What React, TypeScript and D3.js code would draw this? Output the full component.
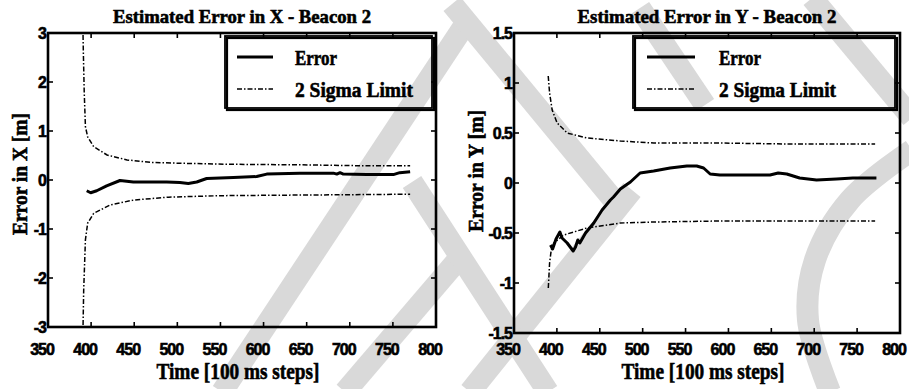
import React from 'react';
import * as d3 from 'd3';

// ---- data ----
const timeTicks = [350, 400, 450, 500, 550, 600, 650, 700, 750, 800];
const yTicksX = [-3, -2, -1, 0, 1, 2, 3];
const yTicksY = [-1.5, -1, -0.5, 0, 0.5, 1, 1.5];

const errorX: [number, number][] = [
  [394.9, -0.22], [399.5, -0.26], [406.5, -0.22], [418, -0.12], [433.5, -0.01],
  [449, -0.04], [487.7, -0.04], [503, -0.05], [512.7, -0.07], [522.5, -0.04],
  [534, 0.03], [565, 0.05], [592, 0.07], [603.7, 0.12], [642, 0.14],
  [681, 0.14], [685, 0.12], [688.7, 0.15], [692.5, 0.12], [719.6, 0.11],
  [750.5, 0.11], [758, 0.15], [770, 0.17],
];

const sigmaUpperX: [number, number][] = [
  [390, 3.6], [391, 2.6], [392, 1.8], [393.4, 1.09], [396, 0.88], [403, 0.68],
  [418.5, 0.51], [441.7, 0.41], [468.6, 0.36], [507, 0.34], [565, 0.32],
  [642, 0.31], [719, 0.29], [770, 0.29],
];

const sigmaLowerX: [number, number][] = [
  [390, -3.6], [391.4, -2.24], [393.4, -1.22], [396, -0.88], [403, -0.68],
  [422, -0.51], [449, -0.41], [490, -0.35], [550, -0.32], [620, -0.31],
  [700, -0.3], [770, -0.29],
];

const errorY: [number, number][] = [
  [392.6, -0.62], [395, -0.66], [399, -0.56], [403.5, -0.49], [406, -0.55],
  [412, -0.6], [419, -0.68], [421.7, -0.64], [424.4, -0.57], [426.7, -0.6],
  [429.4, -0.56], [433.4, -0.5], [443, -0.4], [452.7, -0.27], [462.4, -0.17],
  [466, -0.14], [474, -0.06], [485.7, 0.01], [497, 0.1], [512.8, 0.12],
  [532, 0.15], [551.5, 0.17], [563, 0.17], [571, 0.15], [578.7, 0.09],
  [590, 0.08], [648.5, 0.08], [658, 0.1], [668, 0.09], [683, 0.05],
  [702.7, 0.03], [726, 0.04], [745, 0.05], [772.5, 0.05],
];

const sigmaUpperY: [number, number][] = [
  [389.9, 1.07], [391.5, 0.9], [394.5, 0.73], [400.3, 0.6], [412, 0.5],
  [435, 0.45], [474, 0.42], [512.8, 0.4], [590, 0.4], [668, 0.39], [771, 0.39],
];

const sigmaLowerY: [number, number][] = [
  [390, -1.05], [391.5, -0.8], [393.4, -0.67], [396.5, -0.6], [408, -0.52],
  [435, -0.45], [474, -0.4], [512.8, -0.39], [590, -0.38], [771, -0.38],
];

// ---- decoration: the grey watermark behind the plots ----
const watermark: [number, number][][] = [
  [[464, 26], [222, 392]],
  [[462, 255], [345, 392]],
  [[452, 4], [612, 198]],
  [[632, 190], [470, 392]],
  [[412, 182], [548, 392]],
  [[640, 8], [705, 105]],
  [[812, -2], [912, 118]],
  [[912, 150], [850, 200], [815, 260], [808, 320], [830, 392]],
];

const serif = '"Liberation Serif", "Times New Roman", serif';
const sans = '"Liberation Sans", Arial, sans-serif';

interface PanelProps {
  left: number; right: number; top: number; bottom: number;
  yDomain: [number, number]; yTicks: number[];
  title: string; titleWidth: number; ylabel: string; ylabelX: number; ylabelY: number;
  legend: { x: number; y: number; w: number; h: number; lx0: number; lx1: number; tx: number; errW: number; sigW: number };
  error: [number, number][]; upper: [number, number][]; lower: [number, number][];
  id: string;
}

const heavy = { stroke: '#000', strokeWidth: 0.6 };

function Panel(p: PanelProps) {
  const x = d3.scaleLinear().domain([350, 800]).range([p.left, p.right]);
  const y = d3.scaleLinear().domain(p.yDomain).range([p.bottom, p.top]);
  const line = d3.line<[number, number]>().x(d => x(d[0])).y(d => y(d[1]));
  const tl = 5;
  const cx = (p.left + p.right) / 2;
  const L = p.legend;
  const sigmaDash = '5,2,1.5,2';
  return (
    <g>
      <defs>
        <clipPath id={p.id}>
          <rect x={p.left} y={p.top} width={p.right - p.left} height={p.bottom - p.top} />
        </clipPath>
      </defs>
      <text x={cx} y={23} textAnchor="middle" fontFamily={serif} fontWeight="bold" fontSize={19} {...heavy}
        textLength={p.titleWidth} lengthAdjust="spacingAndGlyphs">{p.title}</text>
      <g clipPath={`url(#${p.id})`}>
        <path d={line(p.upper) || ''} fill="none" stroke="#000" strokeWidth={1.5} strokeDasharray={sigmaDash} />
        <path d={line(p.lower) || ''} fill="none" stroke="#000" strokeWidth={1.5} strokeDasharray={sigmaDash} />
        <path d={line(p.error) || ''} fill="none" stroke="#000" strokeWidth={3} strokeLinejoin="round" />
      </g>
      {/* ticks */}
      {timeTicks.map(t => (
        <g key={`xt${t}`}>
          <line x1={x(t)} x2={x(t)} y1={p.bottom} y2={p.bottom - tl} stroke="#000" strokeWidth={1.6} />
          <line x1={x(t)} x2={x(t)} y1={p.top} y2={p.top + tl} stroke="#000" strokeWidth={1.6} />
          <text x={x(t) - 6} y={355} textAnchor="middle" fontFamily={sans} fontWeight="bold" fontSize={16}
            letterSpacing={-1} {...heavy}>{String(t)}</text>
        </g>
      ))}
      {p.yTicks.map(v => (
        <g key={`yt${v}`}>
          <line x1={p.left} x2={p.left + tl} y1={y(v)} y2={y(v)} stroke="#000" strokeWidth={1.6} />
          <line x1={p.right} x2={p.right - tl} y1={y(v)} y2={y(v)} stroke="#000" strokeWidth={1.6} />
          <text x={p.left - 2} y={y(v) + 5.5} textAnchor="end" fontFamily={sans} fontWeight="bold" fontSize={16}
            letterSpacing={-1} {...heavy}>{String(v)}</text>
        </g>
      ))}
      <rect x={p.left} y={p.top} width={p.right - p.left} height={p.bottom - p.top} fill="none" stroke="#000" strokeWidth={2.6} />
      {/* legend */}
      <rect x={L.x + 2} y={L.y + 2} width={L.w} height={L.h} fill="none" stroke="#000" strokeWidth={2.2} />
      <rect x={L.x} y={L.y} width={L.w} height={L.h} fill="none" stroke="#000" strokeWidth={1.8} />
      <line x1={L.lx0} x2={L.lx1} y1={L.y + 21} y2={L.y + 21} stroke="#000" strokeWidth={3} />
      <line x1={L.lx0} x2={L.lx1} y1={L.y + 53} y2={L.y + 53} stroke="#000" strokeWidth={1.5} strokeDasharray={sigmaDash} />
      <text x={L.tx} y={L.y + 29} fontFamily={serif} fontWeight="bold" fontSize={22} {...heavy}
        textLength={L.errW} lengthAdjust="spacingAndGlyphs">Error</text>
      <text x={L.tx} y={L.y + 61} fontFamily={serif} fontWeight="bold" fontSize={22} {...heavy}
        textLength={L.sigW} lengthAdjust="spacingAndGlyphs">2 Sigma Limit</text>
      {/* axis labels */}
      <text x={cx - 4} y={379} textAnchor="middle" fontFamily={serif} fontWeight="bold" fontSize={24} {...heavy}
        textLength={163} lengthAdjust="spacingAndGlyphs">Time [100 ms steps]</text>
      <text transform={`translate(${p.ylabelX},${p.ylabelY}) rotate(-90)`} textAnchor="middle" fontFamily={serif}
        fontWeight="bold" fontSize={22} {...heavy} textLength={122} lengthAdjust="spacingAndGlyphs">{p.ylabel}</text>
    </g>
  );
}

export default function App() {
  const wm = d3.line<[number, number]>().curve(d3.curveCatmullRom);
  return (
    <svg width={909} height={389} style={{ position: 'absolute', left: 0, top: 0, background: '#fff' }}>
      <rect width={909} height={389} fill="#fff" />
      {watermark.map((pts, i) => (
        <path key={i} d={wm(pts) || ''} fill="none" stroke="#d9d9d9" strokeWidth={22} />
      ))}
      <Panel id="clipX" left={48} right={436} top={33} bottom={327} yDomain={[-3, 3]} yTicks={yTicksX}
        title="Estimated Error in X - Beacon 2" titleWidth={258} ylabel="Error in X [m]" ylabelX={27} ylabelY={174}
        legend={{ x: 225, y: 36, w: 207, h: 72, lx0: 237, lx1: 273, tx: 295, errW: 42, sigW: 118 }}
        error={errorX} upper={sigmaUpperX} lower={sigmaLowerX} />
      <Panel id="clipY" left={514} right={900} top={33} bottom={333} yDomain={[-1.5, 1.5]} yTicks={yTicksY}
        title="Estimated Error in Y - Beacon 2" titleWidth={259} ylabel="Error in Y [m]" ylabelX={483} ylabelY={171}
        legend={{ x: 633, y: 36, w: 262, h: 72, lx0: 647, lx1: 695, tx: 719, errW: 42, sigW: 117 }}
        error={errorY} upper={sigmaUpperY} lower={sigmaLowerY} />
    </svg>
  );
}
